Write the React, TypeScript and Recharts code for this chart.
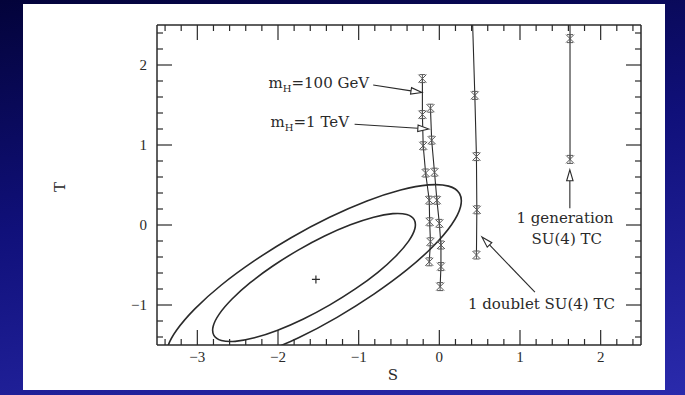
import React from "react";
import {
  ComposedChart,
  Line,
  Scatter,
  XAxis,
  YAxis,
  ReferenceLine,
  ReferenceDot,
} from "recharts";

type Pt = { s: number; t: number };

// S-T fit: outer contour runs off the bottom edge, inner one closes
const OUTER_CONTOUR: Pt[] = [
  { s: -3.357, t: -1.706 },
  { s: -3.371, t: -1.541 },
  { s: -3.258, t: -1.316 },
  { s: -3.031, t: -1.048 },
  { s: -2.702, t: -0.75 },
  { s: -2.296, t: -0.449 },
  { s: -1.838, t: -0.159 },
  { s: -1.361, t: 0.096 },
  { s: -0.897, t: 0.3 },
  { s: -0.48, t: 0.437 },
  { s: -0.134, t: 0.501 },
  { s: 0.115, t: 0.486 },
  { s: 0.25, t: 0.394 },
  { s: 0.263, t: 0.229 },
  { s: 0.151, t: 0.004 },
  { s: -0.076, t: -0.265 },
  { s: -0.404, t: -0.562 },
  { s: -0.811, t: -0.864 },
  { s: -1.268, t: -1.154 },
  { s: -1.745, t: -1.409 },
  { s: -2.209, t: -1.612 },
];

const INNER_CONTOUR: Pt[] = [
  { s: -0.298, t: 0.075 },
  { s: -0.39, t: 0.14 },
  { s: -0.565, t: 0.151 },
  { s: -0.806, t: 0.106 },
  { s: -1.097, t: 0.01 },
  { s: -1.421, t: -0.131 },
  { s: -1.752, t: -0.31 },
  { s: -2.07, t: -0.511 },
  { s: -2.354, t: -0.722 },
  { s: -2.581, t: -0.929 },
  { s: -2.74, t: -1.116 },
  { s: -2.818, t: -1.272 },
  { s: -2.809, t: -1.387 },
  { s: -2.716, t: -1.452 },
  { s: -2.541, t: -1.464 },
  { s: -2.301, t: -1.419 },
  { s: -2.009, t: -1.322 },
  { s: -1.686, t: -1.181 },
  { s: -1.355, t: -1.002 },
  { s: -1.036, t: -0.801 },
  { s: -0.752, t: -0.59 },
  { s: -0.526, t: -0.384 },
  { s: -0.367, t: -0.196 },
  { s: -0.289, t: -0.04 },
];

const BEST_FIT: Pt[] = [{ s: -1.53, t: -0.68 }];

// model predictions, one star per step
const HIGGS_100GEV: Pt[] = [
  { s: -0.21, t: 1.83 },
  { s: -0.21, t: 1.38 },
  { s: -0.2, t: 0.99 },
  { s: -0.17, t: 0.65 },
  { s: -0.125, t: 0.31 },
  { s: -0.12, t: 0.04 },
  { s: -0.11, t: -0.21 },
  { s: -0.125, t: -0.46 },
];

const HIGGS_1TEV: Pt[] = [
  { s: -0.11, t: 1.46 },
  { s: -0.095, t: 1.06 },
  { s: -0.06, t: 0.66 },
  { s: -0.03, t: 0.31 },
  { s: 0.0, t: 0.02 },
  { s: 0.02, t: -0.25 },
  { s: 0.02, t: -0.52 },
  { s: 0.01, t: -0.77 },
];

const DOUBLET_TC: Pt[] = [
  { s: 0.44, t: 1.62 },
  { s: 0.46, t: 0.855 },
  { s: 0.465, t: 0.19 },
  { s: 0.46, t: -0.375 },
];
const DOUBLET_LINE: Pt[] = [{ s: 0.41, t: 2.6 }, ...DOUBLET_TC];

const GENERATION_TC: Pt[] = [
  { s: 1.62, t: 2.33 },
  { s: 1.62, t: 0.82 },
];
const GENERATION_LINE: Pt[] = [{ s: 1.62, t: 2.6 }, ...GENERATION_TC];

const ARROWS: { from: Pt; to: Pt }[] = [
  { from: { s: -0.82, t: 1.75 }, to: { s: -0.216, t: 1.656 } },
  { from: { s: -1.05, t: 1.26 }, to: { s: -0.13, t: 1.2 } },
  { from: { s: 1.185, t: -0.84 }, to: { s: 0.528, t: -0.15 } },
  { from: { s: 1.618, t: 0.21 }, to: { s: 1.618, t: 0.69 } },
];

const S_TICKS = [
  -3.4, -3.2, -3, -2.8, -2.6, -2.4, -2.2, -2, -1.8, -1.6, -1.4, -1.2, -1, -0.8,
  -0.6, -0.4, -0.2, 0, 0.2, 0.4, 0.6, 0.8, 1, 1.2, 1.4, 1.6, 1.8, 2, 2.2, 2.4,
];
const T_TICKS = [
  -1.4, -1.2, -1, -0.8, -0.6, -0.4, -0.2, 0, 0.2, 0.4, 0.6, 0.8, 1, 1.2, 1.4,
  1.6, 1.8, 2, 2.2, 2.4,
];

const INK = "#2a2a2a";
const STAR_INK = "#585858";
const SERIF = '"DejaVu Serif", serif';
const TICK_FONT = '"Liberation Serif", serif';
const MAJOR = 15;
const MINOR = 6;

const isMajor = (v: number) => Math.abs(v - Math.round(v)) < 1e-6;
const fmt = (v: number) => {
  const r = Math.round(v);
  return r < 0 ? `\u2212${-r}` : `${r}`;
};

// integer labels only; the tick marks themselves are drawn as stubs below
function BottomLabel(props: any) {
  const { x, y, payload } = props;
  const v = Number(payload.value);
  if (!isMajor(v)) return <g />;
  return (
    <text x={x} y={y + 17} textAnchor="middle" fontFamily={TICK_FONT} fontSize={15} fill={INK}>
      {fmt(v)}
    </text>
  );
}

function LeftLabel(props: any) {
  const { x, y, payload } = props;
  const v = Number(payload.value);
  if (!isMajor(v)) return <g />;
  return (
    <text x={x - 10} y={y + 5} textAnchor="end" fontFamily={TICK_FONT} fontSize={15} fill={INK}>
      {fmt(v)}
    </text>
  );
}

// inward tick stubs at both ends of a full-height / full-width reference line
function Stubs(props: any) {
  const { x1, y1, x2, y2, len, vertical } = props;
  const st = { stroke: INK, strokeWidth: 1.2 };
  if (vertical) {
    const top = Math.min(y1, y2);
    const bot = Math.max(y1, y2);
    return (
      <g>
        <line x1={x1} y1={top} x2={x1} y2={top + len} {...st} />
        <line x1={x1} y1={bot} x2={x1} y2={bot - len} {...st} />
      </g>
    );
  }
  const left = Math.min(x1, x2);
  const right = Math.max(x1, x2);
  return (
    <g>
      <line x1={left} y1={y1} x2={left + len} y2={y1} {...st} />
      <line x1={right} y1={y1} x2={right - len} y2={y1} {...st} />
    </g>
  );
}

function StarMark({ cx, cy }: { cx?: number; cy?: number }) {
  if (cx == null || cy == null) return null;
  const r = 4;
  const d =
    `M${cx - r},${cy - r}L${cx + r},${cy + r}M${cx - r},${cy + r}L${cx + r},${cy - r}` +
    `M${cx},${cy - r}L${cx},${cy + r}M${cx - 3},${cy - r}L${cx + 3},${cy - r}` +
    `M${cx - 3},${cy + r}L${cx + 3},${cy + r}`;
  return <path d={d} stroke={STAR_INK} strokeWidth={1} fill="none" />;
}

function PlusMark({ cx, cy }: { cx?: number; cy?: number }) {
  if (cx == null || cy == null) return null;
  return (
    <path d={`M${cx - 4},${cy}L${cx + 4},${cy}M${cx},${cy - 4}L${cx},${cy + 4}`} stroke={INK} strokeWidth={1.2} />
  );
}

// open-headed arrow drawn along a reference segment
function ArrowShape(props: any) {
  const { x1, y1, x2, y2 } = props;
  const dx = x2 - x1;
  const dy = y2 - y1;
  const n = Math.hypot(dx, dy) || 1;
  const ux = dx / n;
  const uy = dy / n;
  const L = 11;
  const W = 3.2;
  const bx = x2 - ux * L;
  const by = y2 - uy * L;
  return (
    <g>
      <line x1={x1} y1={y1} x2={bx} y2={by} stroke={INK} strokeWidth={1.1} />
      <polygon
        points={`${x2},${y2} ${bx - uy * W},${by + ux * W} ${bx + uy * W},${by - ux * W}`}
        fill="#fff"
        stroke={INK}
        strokeWidth={1.1}
      />
    </g>
  );
}

function MassNote({ viewBox, value }: { viewBox?: any; value: string }) {
  if (!viewBox) return null;
  return (
    <text x={viewBox.x} y={viewBox.y} textAnchor="end" fontFamily={SERIF} fontSize={15} fill={INK}>
      m
      <tspan dy={4} fontSize={10}>
        H
      </tspan>
      <tspan dy={-4}>={value}</tspan>
    </text>
  );
}

function Note({ viewBox, text, anchor }: { viewBox?: any; text: string; anchor: "start" | "middle" | "end" }) {
  if (!viewBox) return null;
  return (
    <text x={viewBox.x} y={viewBox.y} textAnchor={anchor} fontFamily={SERIF} fontSize={15} fill={INK}>
      {text}
    </text>
  );
}

const AX = { xAxisId: "b", yAxisId: "l" } as const;

export default function App() {
  return (
    <div
      style={{
        position: "absolute",
        left: 0,
        top: 0,
        width: 685,
        height: 395,
        background: "linear-gradient(170deg, #03033a 0%, #10107a 45%, #2a2aac 100%)",
        overflow: "hidden",
      }}
    >
      <div style={{ position: "absolute", left: 23, top: 4, width: 642, height: 386, background: "#fff" }} />
      <div style={{ position: "absolute", left: 0, top: 0 }}>
        <ComposedChart width={685} height={395} margin={{ top: 15, right: 24, bottom: 10, left: 40 }}>
          <XAxis
            xAxisId="b"
            dataKey="s"
            type="number"
            domain={[-3.5, 2.5]}
            allowDataOverflow
            ticks={S_TICKS}
            interval={0}
            height={40}
            tickSize={0}
            tickMargin={0}
            tickLine={false}
            axisLine={{ stroke: INK, strokeWidth: 1.5 }}
            tick={BottomLabel}
            label={(p: any) => (
              <text
                x={p.viewBox.x + p.viewBox.width / 2 - 6}
                y={p.viewBox.y + 35}
                textAnchor="middle"
                fontFamily={SERIF}
                fontSize={15}
                fill={INK}
              >
                S
              </text>
            )}
          />
          <XAxis
            xAxisId="t"
            orientation="top"
            type="number"
            domain={[-3.5, 2.5]}
            height={10}
            tick={false}
            tickLine={false}
            axisLine={{ stroke: INK, strokeWidth: 1.5 }}
          />
          <YAxis
            yAxisId="l"
            dataKey="t"
            type="number"
            domain={[-1.5, 2.5]}
            allowDataOverflow
            ticks={T_TICKS}
            interval={0}
            width={117}
            tickSize={0}
            tickMargin={0}
            tickLine={false}
            axisLine={{ stroke: INK, strokeWidth: 1.5 }}
            tick={LeftLabel}
            label={(p: any) => (
              <text
                x={p.viewBox.x + 20}
                y={p.viewBox.y + p.viewBox.height / 2 + 2}
                transform={`rotate(-90 ${p.viewBox.x + 20} ${p.viewBox.y + p.viewBox.height / 2 + 2})`}
                textAnchor="middle"
                dominantBaseline="central"
                fontFamily={SERIF}
                fontSize={15}
                fill={INK}
              >
                T
              </text>
            )}
          />
          <YAxis
            yAxisId="r"
            orientation="right"
            type="number"
            domain={[-1.5, 2.5]}
            width={20}
            tick={false}
            tickLine={false}
            axisLine={{ stroke: INK, strokeWidth: 1.5 }}
          />

          {S_TICKS.map((s) => (
            <ReferenceLine
              key={`s${s}`}
              {...AX}
              x={s}
              shape={(p: any) => <Stubs {...p} vertical len={isMajor(s) ? MAJOR : MINOR} />}
            />
          ))}
          {T_TICKS.map((t) => (
            <ReferenceLine
              key={`t${t}`}
              {...AX}
              y={t}
              shape={(p: any) => <Stubs {...p} len={isMajor(t) ? MAJOR : MINOR} />}
            />
          ))}

          <Line {...AX} data={OUTER_CONTOUR} dataKey="t" type="natural" stroke={INK} strokeWidth={1.6} dot={false} activeDot={false} isAnimationActive={false} />
          <Line {...AX} data={INNER_CONTOUR} dataKey="t" type="basisClosed" stroke={INK} strokeWidth={1.6} dot={false} activeDot={false} isAnimationActive={false} />

          <Line {...AX} data={HIGGS_100GEV} dataKey="t" type="linear" stroke={INK} strokeWidth={1.1} dot={false} activeDot={false} isAnimationActive={false} />
          <Line {...AX} data={HIGGS_1TEV} dataKey="t" type="linear" stroke={INK} strokeWidth={1.1} dot={false} activeDot={false} isAnimationActive={false} />
          <Line {...AX} data={DOUBLET_LINE} dataKey="t" type="linear" stroke={INK} strokeWidth={1.1} dot={false} activeDot={false} isAnimationActive={false} />
          <Line {...AX} data={GENERATION_LINE} dataKey="t" type="linear" stroke={INK} strokeWidth={1.1} dot={false} activeDot={false} isAnimationActive={false} />

          <Scatter {...AX} data={HIGGS_100GEV} shape={StarMark} isAnimationActive={false} />
          <Scatter {...AX} data={HIGGS_1TEV} shape={StarMark} isAnimationActive={false} />
          <Scatter {...AX} data={DOUBLET_TC} shape={StarMark} isAnimationActive={false} />
          <Scatter {...AX} data={GENERATION_TC} shape={StarMark} isAnimationActive={false} />
          <Scatter {...AX} data={BEST_FIT} shape={PlusMark} isAnimationActive={false} />

          {ARROWS.map((a, i) => (
            <ReferenceLine
              key={i}
              {...AX}
              segment={[
                { x: a.from.s, y: a.from.t },
                { x: a.to.s, y: a.to.t },
              ]}
              shape={ArrowShape}
            />
          ))}

          <ReferenceDot {...AX} x={-0.87} y={1.71} r={0} fill="none" stroke="none"
            label={(p: any) => <MassNote viewBox={p.viewBox} value="100 GeV" />} />
          <ReferenceDot {...AX} x={-1.12} y={1.225} r={0} fill="none" stroke="none"
            label={(p: any) => <MassNote viewBox={p.viewBox} value="1 TeV" />} />
          <ReferenceDot {...AX} x={1.557} y={0.03} r={0} fill="none" stroke="none"
            label={(p: any) => <Note viewBox={p.viewBox} text="1 generation" anchor="middle" />} />
          <ReferenceDot {...AX} x={1.58} y={-0.24} r={0} fill="none" stroke="none"
            label={(p: any) => <Note viewBox={p.viewBox} text="SU(4) TC" anchor="middle" />} />
          <ReferenceDot {...AX} x={0.354} y={-1.05} r={0} fill="none" stroke="none"
            label={(p: any) => <Note viewBox={p.viewBox} text="1 doublet SU(4) TC" anchor="start" />} />
        </ComposedChart>
      </div>
    </div>
  );
}
